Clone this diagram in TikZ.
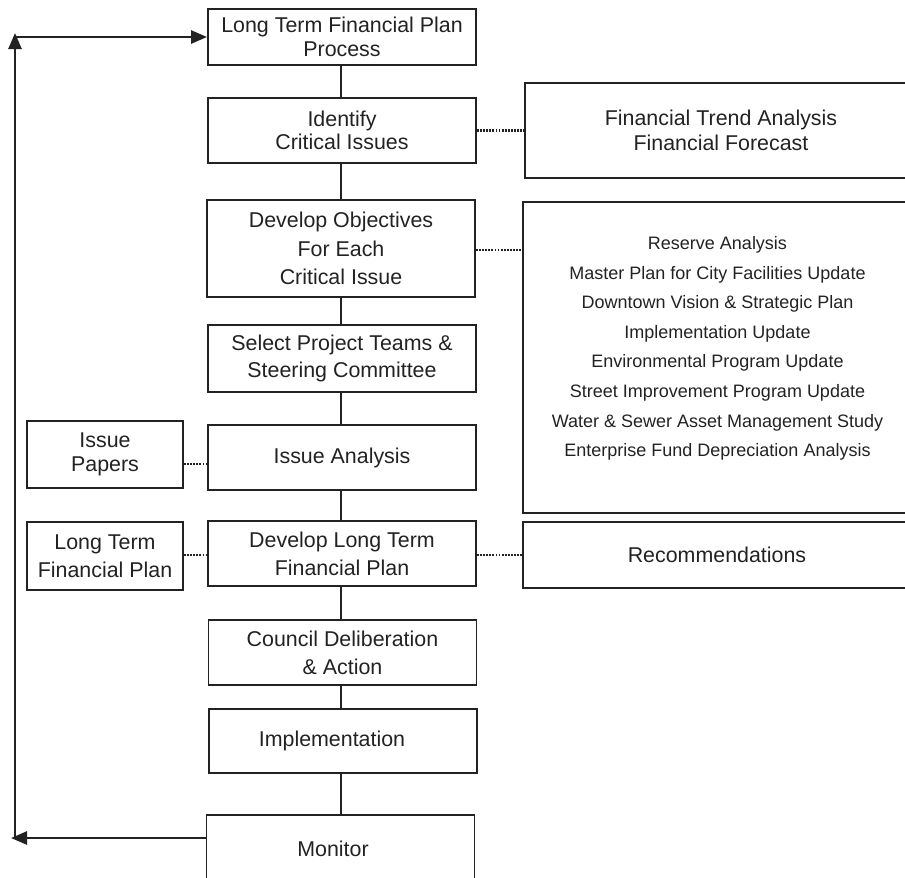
\documentclass[tikz,border=0pt]{standalone}
\usepackage{fontspec}
\setmainfont{Liberation Sans}
\usetikzlibrary{arrows.meta}
\definecolor{ink}{HTML}{222222}
\begin{document}
\begin{tikzpicture}[x=1pt,y=-1pt,
  box/.style={draw=ink, line width=1.9pt, rectangle, inner sep=0pt, align=center,
    text=ink, font=\fontsize{21.4}{24}\selectfont},
  wide/.style={box, minimum width=268pt},
  side/.style={box, minimum width=156pt},
  rbox/.style={box, minimum width=392pt},
  lsp/.style={font=\fontsize{21.4}{#1}\selectfont},
  link/.style={draw=ink, line width=1.9pt},
  dots/.style={draw=ink, line width=2.2pt, dash pattern=on 1.8pt off 1.3pt},
  loopline/.style={draw=ink, line width=2.6pt, -{Triangle[length=16pt,width=13pt]}},
]
\useasboundingbox (0,0) rectangle (905,878);

% central column
\node[wide, minimum height=56pt, lsp=24] (n1) at (342,37) {Long Term Financial Plan\\Process};
\node[wide, minimum height=65pt, lsp=23] (n2) at (342,130.5) {Identify\\Critical Issues};
\node[wide, minimum height=97pt, lsp=28.5] (n3) at (341,248.5) {Develop Objectives\\For Each\\Critical Issue};
\node[wide, minimum height=67pt, lsp=27] (n4) at (342,358.5) {Select Project Teams \&\\Steering Committee};
\node[wide, minimum height=65pt] (n5) at (342,457.5) {Issue Analysis};
\node[wide, minimum height=65pt, lsp=28] (n6) at (342,553.5) {Develop Long Term\\Financial Plan};
\node[wide, minimum height=65pt, lsp=28] (n7) at (342.5,652.5) {Council Deliberation\\\&\ Action};
\node[wide, minimum height=64pt] (n8) at (343,741) {Implementation\hspace*{22pt}};
\node[wide, minimum height=67pt] (n9) at (340.5,848.5) {Monitor\hspace*{15pt}};

% left column
\node[side, minimum height=67pt, lsp=24] (l1) at (105,454.5) {Issue\\Papers};
\node[side, minimum height=68pt, lsp=28] (l2) at (105,556) {Long Term\\Financial Plan};

% right column
\node[rbox, minimum height=95pt, lsp=25] (r1) at (721,130.5) {Financial Trend Analysis\\Financial Forecast\hspace*{0pt}};
\node[rbox, minimum height=311pt] (r2) at (719,357.5) {};
\node[align=center, text=ink, inner sep=0pt, font=\fontsize{18}{29.6}\selectfont] (r2t) at (717.5,348.5)
  {Reserve Analysis\\
   Master Plan for City Facilities Update\\
   Downtown Vision \& Strategic Plan\\
   Implementation Update\\
   Environmental Program Update\\
   Street Improvement Program Update\\
   Water \& Sewer Asset Management Study\\
   Enterprise Fund Depreciation Analysis};
\node[rbox, minimum height=66pt] (r3) at (719,555) {Recommendations\hspace*{4pt}};

% vertical links (straight, at x = 341)
\coordinate (spine) at (341,0);
\draw[link] (spine |- n1.south) -- (spine |- n2.north);
\draw[link] (spine |- n2.south) -- (spine |- n3.north);
\draw[link] (spine |- n3.south) -- (spine |- n4.north);
\draw[link] (spine |- n4.south) -- (spine |- n5.north);
\draw[link] (spine |- n5.south) -- (spine |- n6.north);
\draw[link] (spine |- n6.south) -- (spine |- n7.north);
\draw[link] (spine |- n7.south) -- (spine |- n8.north);
\draw[link] (spine |- n8.south) -- (spine |- n9.north);

% dotted links
\draw[dots] (n2.east) -- (n2.east -| r1.west);
\draw[dots] (n3.east |- 0,250) -- (r2.west |- 0,250);
\draw[dots] (l1.east |- 0,464) -- (n5.west |- 0,464);
\draw[dots] (l2.east |- 0,555) -- (n6.west |- 0,555);
\draw[dots] (n6.east |- 0,555) -- (r3.west |- 0,555);

% feedback loop
\coordinate (lb) at (15,838);
\coordinate (lt) at (15,37);
\coordinate (lbtip) at (11,838);
\coordinate (lttip) at (15,33);
\draw[loopline] (n9.west |- lb) -- (lbtip);
\draw[loopline] (lb) -- (lttip);
\draw[loopline] (lt) -- (n1.west |- lt);
\end{tikzpicture}
\end{document}
